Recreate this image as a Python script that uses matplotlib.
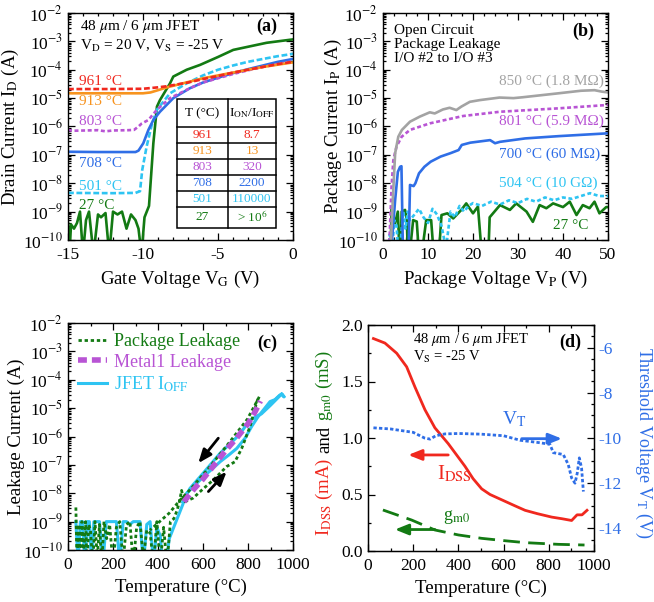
import numpy as np
import matplotlib
matplotlib.use('Agg')
import matplotlib.pyplot as plt
from matplotlib.ticker import LogLocator, MultipleLocator, FuncFormatter, NullFormatter

plt.rcParams['font.family'] = ['Liberation Serif', 'DejaVu Serif']
plt.rcParams['mathtext.fontset'] = 'stix'
plt.rcParams['axes.unicode_minus'] = False

RED = '#f0281e'
ORANGE = '#f7931e'
PURPLE = '#b854d4'
BLUE = '#2f6ee6'
CYAN = '#2ec4f2'
GREEN = '#137a13'
GRAY = '#a3a3a3'

# ---------------- (a) transfer curves, log10(I_D) ----------------
vg_961 = [-15, -12, -10, -9, -8.4, -7, -6, -5, -4, -3, -2, -1, 0]
id_961 = [-4.68, -4.68, -4.67, -4.62, -4.58, -4.45, -4.33, -4.22, -4.1, -4.0, -3.9, -3.8, -3.72]
vg_913 = [-15, -12, -10, -9.5, -9, -8.4, -7.5, -6.9, -6, -5, -4, -3, -2, -1, 0]
id_913 = [-4.83, -4.83, -4.83, -4.8, -4.72, -4.62, -4.5, -4.42, -4.3, -4.2, -4.1, -4.0, -3.9, -3.82, -3.74]
vg_803 = [-15, -14.7, -13, -12.5, -12, -11, -10.6, -10.3, -10.1, -9.64, -9.09, -8.2, -6.87, -6, -5, -4, -3, -2, -1, 0]
id_803 = [-6.12, -6.15, -6.13, -6.17, -6.14, -6.13, -6.12, -6.0, -5.9, -5.77, -5.42, -5.0, -4.65, -4.45, -4.3, -4.15, -4.02, -3.9, -3.8, -3.7]
vg_708 = [-15, -13, -11, -10.5, -10.3, -9.98, -9.64, -9.31, -8.87, -7.98, -6.87, -6, -5, -4, -3, -2, -1, 0]
id_708 = [-6.89, -6.9, -6.9, -6.9, -6.85, -6.59, -6.12, -5.77, -5.48, -5.0, -4.65, -4.45, -4.28, -4.12, -3.98, -3.85, -3.72, -3.62]
vg_501 = [-15, -12, -10.5, -10.2, -10.05, -9.76, -9.42, -9.09, -8.2, -7.09, -6, -5, -4, -3, -2, -1, 0]
id_501 = [-8.34, -8.35, -8.34, -8.28, -7.53, -6.71, -5.95, -5.42, -4.83, -4.48, -4.2, -4.0, -3.85, -3.72, -3.62, -3.52, -3.44]
vg_27 = [-15, -14.9, -14.8, -14.6, -14.4, -14.2, -14.0, -13.8, -13.6, -13.3, -13.0, -12.8, -12.5,
         -12.25, -12.0, -11.7, -11.4, -11.1, -10.8, -10.5, -10.3, -10.1, -9.9, -9.75, -9.6, -9.31,
         -9.07, -8.87, -8.2, -7.98, -7.09, -6.2, -5, -3.98, -1.76, 0]
id_27 = [-9.4, -10.5, -9.45, -9.6, -9.4, -9.0, -10.5, -9.3, -9.0, -10.5, -9.1, -9.2, -9.05,
         -10.5, -9.0, -9.1, -9.0, -9.6, -9.1, -9.3, -9.6, -10.5, -9.2, -9.0, -8.8, -6.59,
         -5.3, -5.07, -4.48, -4.24, -4.0, -3.83, -3.55, -3.3, -3.05, -2.93]
labels_a = ['961 °C', '913 °C', '803 °C', '708 °C', '501 °C', '27 °C']
label_a_y = [-4.4, -5.12, -5.84, -7.29, -8.1, -8.8]
table_T = ['961', '913', '803', '708', '501', '27']
table_ratio = ['8.7', '13', '320', '2200', '110000', r'> 10$^{6}$']

# ---------------- (b) package leakage, log10(I_P) ----------------
vp_850 = [1.5, 2.2, 2.7, 3.4, 4.2, 6, 8.2, 10.4, 11.5, 13.3, 14.8, 16.3, 17.4, 19.3, 21.5, 25.9,
          29, 31, 35, 39, 44, 47, 48.6, 50]
ip_850 = [-11, -8.5, -6.94, -6.36, -6.12, -5.83, -5.65, -5.5, -5.54, -5.4, -5.34, -5.42, -5.3,
          -5.13, -5.07, -4.98, -5.0, -4.97, -4.9, -4.83, -4.74, -4.72, -4.77, -4.8]
vp_801 = [1.2, 1.9, 2.3, 3.0, 4.15, 6, 10.4, 17.8, 26, 39, 50]
ip_801 = [-11, -8.12, -7.18, -6.71, -6.36, -6.12, -5.89, -5.63, -5.48, -5.36, -5.24]
vp_700 = [1.5, 2.7, 3.3, 3.8, 4.1, 4.5, 5.6, 6.0, 6.8, 7.2, 8.0, 9.2, 10.6, 12.8, 15, 16.8, 17.5,
          19.4, 23.8, 24.9, 26, 31.6, 39, 50]
ip_700 = [-11, -8.59, -7.6, -7.42, -7.4, -11, -11, -8.06, -8.1, -8.0, -7.65, -7.42, -7.24, -7.06,
          -6.94, -6.83, -6.65, -6.57, -6.48, -6.59, -6.54, -6.42, -6.34, -6.24]
vp_504 = [1.0, 1.5, 2.0, 2.5, 3.0, 3.5, 4.0, 4.5, 5.0, 5.5, 6.0, 7.0, 8.0, 9.0, 10.0, 11.0, 12.0,
          13.0, 14.0, 15.0, 16.0, 17.0, 18.0, 19.0, 20.0, 22.0, 24.0, 26.0, 28.0, 30.0, 32.0, 34.0,
          36.0, 38.0, 40.0, 42.0, 44.0, 46.0, 48.0, 50.0]
ip_504 = [-11, -9.8, -10.5, -9.3, -9.5, -10.6, -9.9, -9.0, -9.6, -9.0, -9.3, -9.1, -8.9, -9.2,
          -9.4, -8.9, -9.1, -9.5, -10.3, -9.0, -9.2, -8.8, -9.0, -8.8, -8.7, -8.8, -8.65, -8.75,
          -8.6, -8.7, -8.55, -8.65, -8.5, -8.6, -8.5, -8.55, -8.45, -8.35, -8.45, -8.45]
vp_27 = [1.6, 1.9, 2.7, 3.3, 3.8, 4.15, 4.9, 5.3, 5.6, 6.7, 7.5, 8.2, 9.6, 10.7, 11.5, 12.2, 13,
         14.3, 15.6, 17.4, 18.5, 20, 21.1, 22.2, 23.3, 23.7, 26, 28.2, 29.6, 31.9, 33.3, 34.8,
         36.3, 37.8, 40, 41.5, 43, 44.4, 45.9, 47, 48.1, 49.6, 50]
ip_27 = [-11, -8.88, -9.41, -9.0, -11, -9.0, -8.94, -9.3, -11, -9.3, -9.35, -11, -9.3, -9.3,
         -11, -11, -9.12, -9.06, -9.24, -8.94, -8.71, -9.06, -8.82, -11, -11, -9.2, -8.77, -8.94,
         -8.71, -9.0, -9.36, -8.77, -8.88, -8.71, -8.84, -8.65, -9.12, -8.77, -8.88, -8.65,
         -9.06, -8.84, -8.84]
labels_b = ['850 °C (1.8 MΩ)', '801 °C (5.9 MΩ)', '700 °C (60 MΩ)', '504 °C (10 GΩ)']
label_b_y = [-4.4, -5.8, -6.97, -8.0]

# ---------------- (c) leakage vs temperature, log10(I) ----------------
t_pkg = [35, 40, 48, 55, 62, 70, 78, 85, 92, 100, 110, 120, 130, 140, 150, 160, 172, 185, 200,
         215, 230, 245, 260, 275, 290, 305, 320, 335, 350, 365, 380, 395, 410, 425, 440, 455,
         470, 485, 495, 505, 512, 520, 556, 600, 646, 705, 742, 772, 809, 841, 850,
         841, 797, 720, 631, 542, 498, 450, 400, 364]
i_pkg = [-8.5, -10.5, -9.1, -10.5, -9.0, -10.2, -9.0, -10.5, -9.1, -9.3, -10.5, -9.0, -10.3,
         -9.1, -10.5, -9.0, -9.6, -9.1, -10.5, -9.2, -9.0, -10.4, -9.1, -9.0, -10.5, -9.2, -9.0,
         -10.3, -9.3, -9.4, -10.5, -9.0, -10.5, -9.2, -10.5, -9.0, -8.9, -8.6, -8.3, -7.9, -8.2,
         -8.3, -8.17, -7.85, -7.53, -7.06, -6.89, -6.42, -5.65, -4.74, -4.6,
         -4.74, -5.39, -6.18, -7.06, -7.88, -8.24, -8.7, -9.05, -9.3]
t_m1 = [515, 560, 600, 650, 700, 750, 800, 830, 855]
i_m1 = [-8.3, -7.85, -7.5, -7.0, -6.5, -6.05, -5.55, -5.15, -4.75]
t_off = [35, 45, 55, 65, 75, 85, 95, 105, 115, 125, 140, 155, 170, 185, 200, 215, 230, 245, 260,
         275, 290, 305, 320, 335, 350, 365, 380, 395, 410, 420, 435, 450, 470, 490, 510, 527,
         560, 601, 640, 676, 715, 750, 787, 816, 845, 870, 898, 920, 940, 950, 960,
         950, 900, 860, 809, 760, 676, 600, 542, 510]
i_off = [-9.0, -10.5, -9.0, -9.0, -10.5, -9.0, -9.0, -10.5, -9.0, -9.0, -9.0, -10.5, -9.0, -9.0,
         -9.0, -9.0, -10.5, -9.0, -9.0, -9.1, -9.0, -9.0, -9.0, -10.5, -9.1, -9.0, -10.5, -9.2,
         -9.5, -10.5, -10.5, -9.6, -9.2, -8.8, -8.4, -8.0, -7.75, -7.42, -7.15, -6.89, -6.65,
         -6.42, -6.06, -5.65, -5.3, -5.05, -4.77, -4.7, -4.55, -4.5, -4.6,
         -4.5, -4.9, -5.2, -5.42, -5.95, -6.59, -7.3, -7.83, -8.3]

# ---------------- (d) I_DSS, g_m0, V_T vs temperature ----------------
t_idss = [24, 75, 127, 171, 208, 252, 296, 355, 429, 465, 503, 540, 606, 650, 695, 750, 813,
          860, 901, 925, 947, 969]
idss = [1.88, 1.84, 1.75, 1.63, 1.45, 1.25, 1.09, 0.95, 0.75, 0.64, 0.55, 0.50, 0.44, 0.40,
        0.36, 0.33, 0.30, 0.285, 0.27, 0.32, 0.32, 0.36]
t_gm = [66, 193, 296, 400, 503, 600, 695, 842, 958]
gm0 = [0.363, 0.274, 0.186, 0.142, 0.112, 0.092, 0.074, 0.059, 0.053]
t_vt = [24, 100, 200, 250, 275, 300, 340, 400, 500, 600, 673, 761, 805, 820, 864, 886, 901,
        916, 926, 935, 945, 953]
vt = [-9.55, -9.6, -9.75, -10.0, -10.05, -9.9, -9.82, -9.8, -9.83, -9.9, -10.1, -10.21, -10.28,
      -10.65, -10.73, -11.17, -11.77, -12.0, -11.55, -10.88, -11.33, -12.37]

TICK = 12.5
LAB = 13.5


def log_axis(ax):
    ax.set_yscale('log')
    ax.set_ylim(1e-10, 1e-2)
    ax.yaxis.set_major_locator(LogLocator(base=10, numticks=20))
    ax.yaxis.set_minor_locator(LogLocator(base=10, subs=np.arange(2, 10), numticks=20))
    ax.yaxis.set_minor_formatter(NullFormatter())
    ax.yaxis.set_major_formatter(FuncFormatter(lambda v, p: r'10$^{%d}$' % round(np.log10(v))))


def style(ax, right=True):
    ax.tick_params(which='both', direction='in', top=True, right=right, labelsize=TICK, width=0.9)
    ax.tick_params(which='major', length=5)
    ax.tick_params(which='minor', length=2.5)
    ax.tick_params(axis='x', pad=5)
    for s in ax.spines.values():
        s.set_linewidth(1.0)


def p10(a):
    return np.power(10.0, a)


arrow = dict(arrowstyle='-|>,head_length=0.8,head_width=0.32', lw=2, shrinkA=0, shrinkB=0)

fig = plt.figure(figsize=(6.54, 6.02), dpi=100)
W, H = 654, 602
ax_a = fig.add_axes([68 / W, 1 - 240 / H, 225 / W, 227 / H])
ax_b = fig.add_axes([383 / W, 1 - 240 / H, 225 / W, 227 / H])
ax_c = fig.add_axes([68 / W, 1 - 550 / H, 225 / W, 227 / H])
ax_d = fig.add_axes([368 / W, 1 - 551 / H, 226 / W, 226 / H])

# ---- (a)
ax = ax_a
lw = 1.9
ax.plot(vg_27, p10(id_27), color=GREEN, lw=lw)
ax.plot(vg_501, p10(id_501), color=CYAN, lw=lw, dashes=(2.2, 1))
ax.plot(vg_708, p10(id_708), color=BLUE, lw=lw)
ax.plot(vg_803, p10(id_803), color=PURPLE, lw=lw, dashes=(1.5, 1))
ax.plot(vg_913, p10(id_913), color=ORANGE, lw=lw)
ax.plot(vg_961, p10(id_961), color=RED, lw=lw, dashes=(2.2, 1))
log_axis(ax)
ax.set_xlim(-15, 0)
ax.xaxis.set_major_locator(MultipleLocator(5))
ax.xaxis.set_minor_locator(MultipleLocator(1))
style(ax)
cols_a = [RED, ORANGE, PURPLE, BLUE, CYAN, GREEN]
for s, yv, c in zip(labels_a, label_a_y, cols_a):
    ax.text(-14.25, p10(yv), s, color=c, fontsize=11, va='center')
ax.text(0.055, 0.94, r'48 $\mu$m / 6 $\mu$m JFET', transform=ax.transAxes, fontsize=11, va='center')
ax.text(0.055, 0.855, r'V$_\mathrm{D}$ = 20 V, V$_\mathrm{S}$ = -25 V', transform=ax.transAxes,
        fontsize=11, va='center')
ax.text(0.885, 0.94, '(a)', transform=ax.transAxes, fontsize=13, fontweight='bold',
        ha='center', va='center')
ax.set_xlabel(r'Gate Voltage V$_\mathrm{G}$ (V)', fontsize=LAB)
ax.set_ylabel(r'Drain Current I$_\mathrm{D}$ (A)', fontsize=LAB)
ax.yaxis.set_label_coords(-0.209, 0.5)

# table
tx0, txm, tx1 = 0.484, 0.711, 0.924
ty = [1 - (p - 13) / 227 for p in [99.3, 126.7, 143.3, 159, 175, 190.7, 206.7, 228.3]]
ax.add_patch(plt.Rectangle((tx0, ty[-1]), tx1 - tx0, ty[0] - ty[-1], transform=ax.transAxes,
                           facecolor='white', edgecolor='black', lw=1.1, zorder=5))
for yy in ty[1:-1]:
    ax.plot([tx0, tx1], [yy, yy], transform=ax.transAxes, color='black', lw=1.1, zorder=6)
ax.plot([txm, txm], [ty[0], ty[-1]], transform=ax.transAxes, color='black', lw=1.1, zorder=6)
ax.text((tx0 + txm) / 2, (ty[0] + ty[1]) / 2, 'T (°C)', transform=ax.transAxes, fontsize=9.5,
        ha='center', va='center', zorder=7)
ax.text((txm + tx1) / 2, (ty[0] + ty[1]) / 2, r'I$_\mathrm{ON}$/I$_\mathrm{OFF}$',
        transform=ax.transAxes, fontsize=9.5, ha='center', va='center', zorder=7)
for i, (tt, rr, c) in enumerate(zip(table_T, table_ratio, cols_a)):
    yc = (ty[i + 1] + ty[i + 2]) / 2
    ax.text((tx0 + txm) / 2, yc, tt, transform=ax.transAxes, fontsize=9.5, color=c,
            ha='center', va='center', zorder=7)
    ax.text((txm + tx1) / 2, yc, rr, transform=ax.transAxes, fontsize=9.5, color=c,
            ha='center', va='center', zorder=7)

# ---- (b)
ax = ax_b
ax.plot(vp_27, p10(ip_27), color=GREEN, lw=lw)
ax.plot(vp_504, p10(ip_504), color=CYAN, lw=lw, dashes=(1.5, 1))
ax.plot(vp_700, p10(ip_700), color=BLUE, lw=lw)
ax.plot(vp_801, p10(ip_801), color=PURPLE, lw=lw, dashes=(1.5, 1))
ax.plot(vp_850, p10(ip_850), color=GRAY, lw=lw)
log_axis(ax)
ax.set_xlim(0, 50)
ax.xaxis.set_major_locator(MultipleLocator(10))
ax.xaxis.set_minor_locator(MultipleLocator(2.5))
style(ax)
for s, yv, c in zip(labels_b, label_b_y, [GRAY, PURPLE, BLUE, CYAN]):
    ax.text(25.7, p10(yv), s, color=c, fontsize=11, va='center')
ax.text(37.8, p10(-9.5), '27 °C', color=GREEN, fontsize=11, va='center')
ax.text(0.05, 0.95, 'Open Circuit\nPackage Leakage\nI/O #2 to I/O #3', transform=ax.transAxes,
        fontsize=11, va='top', linespacing=1.08)
ax.text(0.889, 0.918, '(b)', transform=ax.transAxes, fontsize=13, fontweight='bold',
        ha='center', va='center')
ax.set_xlabel(r'Package Voltage V$_\mathrm{P}$ (V)', fontsize=LAB)
ax.set_ylabel(r'Package Current I$_\mathrm{P}$ (A)', fontsize=LAB)
ax.yaxis.set_label_coords(-0.173, 0.5)

# ---- (c)
ax = ax_c
ax.plot(t_off, p10(i_off), color=CYAN, lw=2.2, label=r'JFET I$_\mathrm{OFF}$')
ax.plot(t_pkg, p10(i_pkg), color=GREEN, lw=2.0, dashes=(1.2, 1.0), label='Package Leakage')
ax.plot(t_m1, p10(i_m1), color=PURPLE, lw=4.0, dashes=(1.6, 0.9), label='Metal1 Leakage')
log_axis(ax)
ax.set_xlim(0, 1000)
ax.xaxis.set_major_locator(MultipleLocator(200))
ax.xaxis.set_minor_locator(MultipleLocator(100))
style(ax)
h, l = ax.get_legend_handles_labels()
order = [1, 2, 0]
leg = ax.legend([h[i] for i in order], [l[i] for i in order], loc='upper left', frameon=False,
                fontsize=13, handlelength=1.6, handletextpad=0.4, labelspacing=0.2,
                borderaxespad=0.15)
for txt, c in zip(leg.get_texts(), [GREEN, PURPLE, CYAN]):
    txt.set_color(c)
ax.annotate('', xy=(579, p10(-6.94)), xytext=(668, p10(-6.06)), arrowprops=dict(arrow, color='black'))
ax.annotate('', xy=(705, p10(-7.24)), xytext=(624, p10(-7.94)), arrowprops=dict(arrow, color='black'))
ax.text(0.885, 0.91, '(c)', transform=ax.transAxes, fontsize=13, fontweight='bold',
        ha='center', va='center')
ax.set_xlabel('Temperature (°C)', fontsize=LAB)
ax.set_ylabel('Leakage Current (A)', fontsize=LAB)
ax.yaxis.set_label_coords(-0.191, 0.5)

# ---- (d)
ax = ax_d
ax.plot(t_idss, idss, color=RED, lw=2.0)
ax.plot(t_gm, gm0, color=GREEN, lw=2.0, dashes=(6, 3))
ax.set_xlim(0, 1000)
ax.set_ylim(0, 2.0)
ax.xaxis.set_major_locator(MultipleLocator(200))
ax.xaxis.set_minor_locator(MultipleLocator(100))
ax.yaxis.set_major_locator(MultipleLocator(0.5))
ax.yaxis.set_minor_locator(MultipleLocator(0.25))
ax.yaxis.set_major_formatter(FuncFormatter(lambda v, p: '%.1f' % v))
style(ax, right=False)
axt = ax.twinx()
axt.plot(t_vt, vt, color=BLUE, lw=2.0, dashes=(1.2, 0.8))
axt.set_ylim(-15, -5)
axt.yaxis.set_major_locator(MultipleLocator(2))
axt.yaxis.set_minor_locator(MultipleLocator(0.5))
axt.tick_params(which='both', direction='in', labelsize=TICK, width=0.9, labelcolor=BLUE)
axt.tick_params(which='major', length=5)
axt.tick_params(which='minor', length=2.5)
ax.text(199, 1.87, r'48 $\mu$m / 6 $\mu$m JFET', fontsize=10.5, va='center')
ax.text(199, 1.72, r'V$_\mathrm{S}$ = -25 V', fontsize=10.5, va='center')
ax.text(894, 1.85, '(d)', fontsize=13, fontweight='bold', ha='center', va='center')
ax.text(306, 0.68, r'I$_\mathrm{DSS}$', color=RED, fontsize=15, va='center')
ax.text(332, 0.3, r'g$_\mathrm{m0}$', color=GREEN, fontsize=13, va='center')
axt.text(593, -9.15, r'V$_\mathrm{T}$', color=BLUE, fontsize=14, va='center')
ax.annotate('', xy=(178, 0.85), xytext=(355, 0.85), arrowprops=dict(arrow, color=RED))
ax.annotate('', xy=(119, 0.19), xytext=(296, 0.19), arrowprops=dict(arrow, color=GREEN))
axt.annotate('', xy=(858, -10.03), xytext=(680, -10.03), arrowprops=dict(arrow, color=BLUE))
ax.set_xlabel('Temperature (°C)', fontsize=LAB)
fig.text(644 / W, 1 - 443 / H, r'Threshold Voltage V$_\mathrm{T}$ (V)', color=BLUE, fontsize=13,
         rotation=270, ha='center', va='center')

# multi-coloured left label of (d)
fig.canvas.draw()
rend = fig.canvas.get_renderer()
parts = [(r'I$_\mathrm{DSS}$ (mA)', RED), ('and', 'black'), (r'g$_\mathrm{m0}$ (mS)', GREEN)]
texts = [fig.text(0, 0, s, color=c, fontsize=LAB, rotation=90, rotation_mode='anchor',
                  ha='left', va='baseline') for s, c in parts]
hs = [t.get_window_extent(rend).height for t in texts]
gap = 5
y = (H - 443) - (sum(hs) + gap * (len(hs) - 1)) / 2
for t, hh in zip(texts, hs):
    t.set_position((329 / W, y / H))
    y += hh + gap

fig.savefig('out.png', dpi=100)
